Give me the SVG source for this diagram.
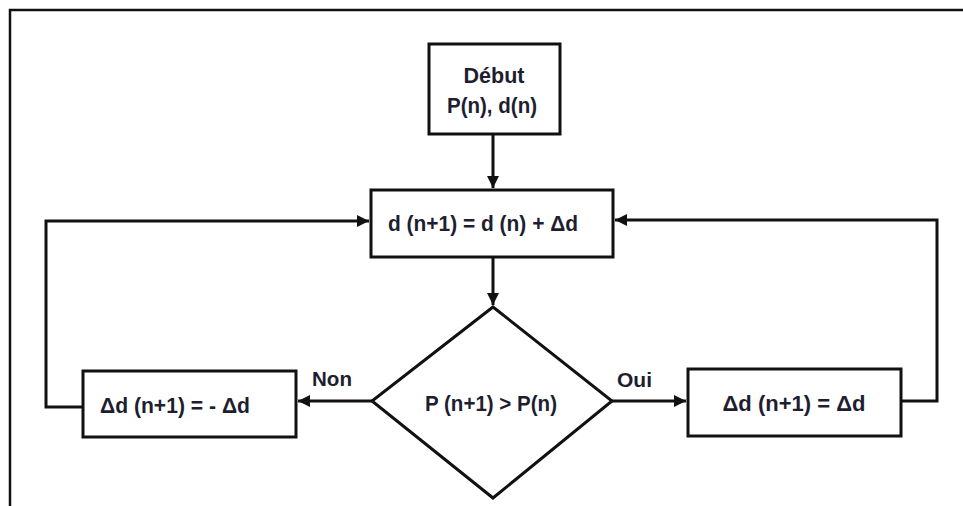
<svg xmlns="http://www.w3.org/2000/svg" width="963" height="506" viewBox="0 0 963 506">
<style>
.box{fill:#fff;stroke:#111;stroke-width:3}
.ln{fill:none;stroke:#111;stroke-width:3}
.t{font-family:"Liberation Sans",Arial,sans-serif;font-weight:bold;font-size:22px;fill:#1e1e30;text-anchor:middle}
.lb{font-family:"Liberation Sans",Arial,sans-serif;font-weight:bold;font-size:21px;fill:#1e1e30}
</style>
<defs>
<marker id="ah" viewBox="0 0 10 10" refX="10" refY="5" markerWidth="4" markerHeight="4" markerUnits="strokeWidth" orient="auto">
<path d="M0,0 L10,5 L0,10 z" fill="#111"/>
</marker>
</defs>
<rect width="963" height="506" fill="#fff"/>
<path d="M10,506 V10 H963" fill="none" stroke="#111" stroke-width="2.5"/>
<g id="connectors">
<path class="ln" d="M493,135 V188" marker-end="url(#ah)"/>
<path class="ln" d="M493,257 V305" marker-end="url(#ah)"/>
<path class="ln" d="M372,401 H298" marker-end="url(#ah)"/>
<path class="ln" d="M612,401 H686" marker-end="url(#ah)"/>
<path class="ln" d="M83,407 H46 V221 H369" marker-end="url(#ah)"/>
<path class="ln" d="M901,401 H937 V220 H615" marker-end="url(#ah)"/>
<text class="lb" x="312" y="386" textLength="40" lengthAdjust="spacingAndGlyphs">Non</text>
<text class="lb" x="617" y="387" textLength="35" lengthAdjust="spacingAndGlyphs">Oui</text>
</g>
<g id="debut">
<rect class="box" x="429" y="44" width="131" height="90"/>
<text class="t" x="494" y="83" textLength="61" lengthAdjust="spacingAndGlyphs">Début</text>
<text class="t" x="492" y="113" textLength="90" lengthAdjust="spacingAndGlyphs">P(n), d(n)</text>
</g>
<g id="update">
<rect class="box" x="371" y="190" width="242" height="67"/>
<text class="t" x="483" y="231" textLength="190" lengthAdjust="spacingAndGlyphs">d (n+1) = d (n) + Δd</text>
</g>
<g id="decision">
<polygon class="box" points="493,307 612,401 493,498 372,401"/>
<text class="t" x="491" y="411" textLength="132" lengthAdjust="spacingAndGlyphs">P (n+1) &gt; P(n)</text>
</g>
<g id="non-box">
<rect class="box" x="83" y="371" width="213" height="66"/>
<text class="t" x="175" y="413" textLength="150" lengthAdjust="spacingAndGlyphs">Δd (n+1) = - Δd</text>
</g>
<g id="oui-box">
<rect class="box" x="688" y="369" width="213" height="67"/>
<text class="t" x="794" y="411" textLength="143" lengthAdjust="spacingAndGlyphs">Δd (n+1)  = Δd</text>
</g>
</svg>
